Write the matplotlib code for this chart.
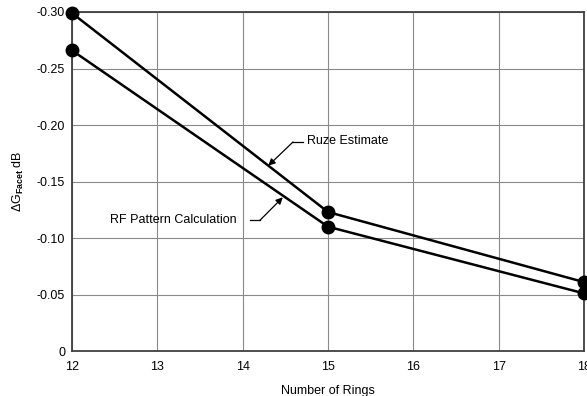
import matplotlib
matplotlib.use("Agg")
import matplotlib.pyplot as plt

# ── data ──
rings = [12, 15, 18]
ruze_estimate = [-0.299, -0.123, -0.061]
rf_pattern = [-0.266, -0.110, -0.051]

x_ticks = [12, 13, 14, 15, 16, 17, 18]
y_ticks = [0, -0.05, -0.10, -0.15, -0.20, -0.25, -0.30]
y_tick_labels = ["0", "-0.05", "-0.10", "-0.15", "-0.20", "-0.25", "-0.30"]

plt.rcParams["font.family"] = ["Liberation Sans", "DejaVu Sans"]
plt.rcParams["mathtext.fontset"] = "custom"
plt.rcParams["mathtext.rm"] = "Liberation Sans"
plt.rcParams["mathtext.it"] = "Liberation Sans"
plt.rcParams["mathtext.bf"] = "Liberation Sans:bold"

fig = plt.figure(figsize=(5.87, 3.96), dpi=100)
ax = fig.add_axes([0.1227, 0.1136, 0.8722, 0.8561])

ax.plot(rings, ruze_estimate, "k-", lw=1.8, marker="o", ms=9, clip_on=False, zorder=3)
ax.plot(rings, rf_pattern, "k-", lw=1.8, marker="o", ms=9, clip_on=False, zorder=3)

ax.set_xlim(12, 18)
ax.set_ylim(0, -0.30)
ax.set_xticks(x_ticks)
ax.set_yticks(y_ticks)
ax.set_yticklabels(y_tick_labels)
ax.tick_params(length=0, labelsize=9)
ax.tick_params(axis="x", pad=7)
ax.tick_params(axis="y", pad=5)
ax.grid(True, color="#8a8a8a", lw=0.8)
for s in ax.spines.values():
    s.set_color("#404040")
    s.set_linewidth(1.3)

ax.set_xlabel("Number of Rings", fontsize=9, labelpad=9)
ax.set_ylabel(r"$\Delta\mathrm{G}_{\mathbf{Facet}}$ dB", fontsize=9, labelpad=8)

# ── annotations ──
ax.plot([14.59, 14.71], [-0.185, -0.185], "k-", lw=0.9)
ax.annotate("", xy=(14.30, -0.164), xytext=(14.59, -0.185),
            arrowprops=dict(arrowstyle="-|>", color="k", lw=0.9,
                            mutation_scale=10, shrinkA=0, shrinkB=0))
ax.text(14.75, -0.186, "Ruze Estimate", fontsize=9, va="center", ha="left")

ax.plot([14.09, 14.20], [-0.1155, -0.1155], "k-", lw=0.9)
ax.annotate("", xy=(14.47, -0.136), xytext=(14.20, -0.1155),
            arrowprops=dict(arrowstyle="-|>", color="k", lw=0.9,
                            mutation_scale=10, shrinkA=0, shrinkB=0))
ax.text(13.93, -0.1155, "RF Pattern Calculation", fontsize=9, va="center", ha="right")

fig.savefig("out.png", dpi=100)
